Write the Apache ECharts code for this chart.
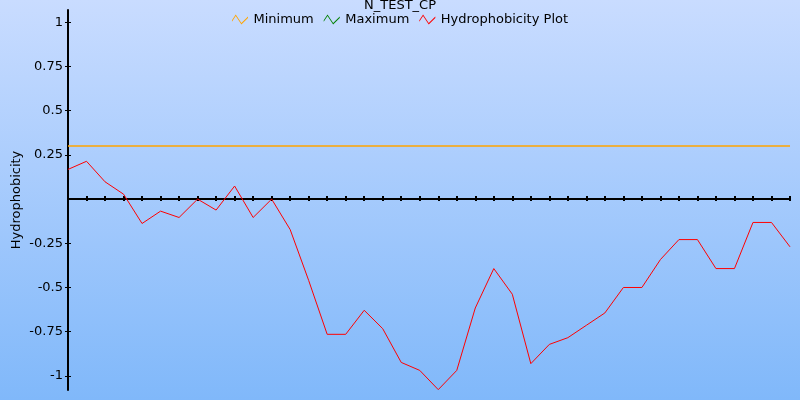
<!DOCTYPE html>
<html>
<head>
<meta charset="utf-8">
<script src="https://cdn.jsdelivr.net/npm/echarts@6/dist/echarts.min.js"></script>
<style>html,body{margin:0;padding:0;}#c{width:800px;height:400px;}</style>
</head>
<body>
<div id="c"></div>
<script>
var titleText = 'N_TEST_CP';
var seriesNames = ['Minimum', 'Maximum', 'Hydrophobicity Plot'];
var yAxisName = 'Hydrophobicity';
var positions = [];
for (var i = 1; i <= 40; i++) positions.push(String(i));
var hydroValues = [0.168, 0.214, 0.098, 0.028, -0.138, -0.068, -0.104, 0.0, -0.062, 0.074,
  -0.104, 0.0, -0.172, -0.46, -0.765, -0.765, -0.629, -0.733, -0.924, -0.969,
  -1.078, -0.969, -0.616, -0.393, -0.538, -0.931, -0.822, -0.784, -0.714, -0.644,
  -0.5, -0.5, -0.342, -0.229, -0.229, -0.393, -0.393, -0.132, -0.132, -0.27];
var minimumValue = 0.30;
var minimumValues = positions.map(function () { return minimumValue; });
var maximumValues = [];
var yTickValues = [1, 0.75, 0.5, 0.25, -0.25, -0.5, -0.75, -1];
var yMin = -1.08, yMax = 1.07;

var font = 'DejaVu Sans';
var zig = 'path://M0,6 L4,0 L10,9 L17,2 L17,3.6 L10,10.6 L4,1.6 L0,7.6 Z';
var colors = ['#ffa500', '#008000', '#ff0000'];

var chart = echarts.init(document.getElementById('c'), null, {renderer: 'canvas'});
chart.setOption({
  animation: false,
  backgroundColor: new echarts.graphic.LinearGradient(0, 0, 0, 1, [
    {offset: 0, color: '#c9dcff'}, {offset: 1, color: '#80b8fa'}
  ]),
  textStyle: {fontFamily: font},
  title: {
    text: titleText, left: 'center', top: -6,
    textStyle: {fontFamily: font, fontSize: 13, fontWeight: 'normal', color: '#000'}
  },
  legend: {
    top: 8, left: 'center', itemWidth: 17, itemHeight: 10, itemGap: 10,
    textStyle: {fontFamily: font, fontSize: 13, color: '#000'},
    data: seriesNames.map(function (n, k) { return {name: n, icon: zig, itemStyle: {color: colors[k]}}; })
  },
  grid: {left: 68, right: 10, top: 10, bottom: 10, containLabel: false, outerBoundsMode: 'none'},
  xAxis: [{
    type: 'category', data: positions, boundaryGap: false, position: 'bottom',
    axisLine: {onZero: true, lineStyle: {color: '#000', width: 2}},
    axisTick: {show: true, interval: 0, length: 2, inside: false, lineStyle: {color: '#000', width: 2}},
    axisLabel: {show: false}, splitLine: {show: false}
  }, {
    type: 'category', data: positions, boundaryGap: false, position: 'bottom',
    axisLine: {show: false, onZero: true},
    axisTick: {show: true, interval: 0, length: 3, inside: true, lineStyle: {color: '#000', width: 2}},
    axisLabel: {show: false}, splitLine: {show: false}
  }],
  yAxis: [{
    type: 'value', min: yMin, max: yMax, position: 'left',
    name: yAxisName, nameLocation: 'middle', nameGap: 45, nameMoveOverlap: false,
    nameTextStyle: {fontFamily: font, fontSize: 13, color: '#000'},
    axisLine: {show: true, lineStyle: {color: '#000', width: 2}},
    axisTick: {show: true, length: 3, customValues: yTickValues, lineStyle: {color: '#000', width: 1}},
    axisLabel: {customValues: yTickValues, margin: 5, fontFamily: font, fontSize: 13, color: '#000'},
    splitLine: {show: false}
  }, {
    type: 'value', min: yMin, max: yMax, position: 'left',
    axisLine: {show: false},
    axisTick: {show: true, inside: true, length: 3, customValues: yTickValues, lineStyle: {color: '#000', width: 1}},
    axisLabel: {show: false}, splitLine: {show: false}
  }],
  series: [{
    name: seriesNames[0], type: 'line', data: minimumValues, showSymbol: false, symbol: 'none',
    lineStyle: {color: colors[0], width: 1.5}, itemStyle: {color: colors[0]}
  }, {
    name: seriesNames[1], type: 'line', data: maximumValues, showSymbol: false, symbol: 'none',
    lineStyle: {color: colors[1], width: 1}, itemStyle: {color: colors[1]}
  }, {
    name: seriesNames[2], type: 'line', data: hydroValues, showSymbol: false, symbol: 'none',
    lineStyle: {color: colors[2], width: 1}, itemStyle: {color: colors[2]}
  }]
});
</script>
</body>
</html>
